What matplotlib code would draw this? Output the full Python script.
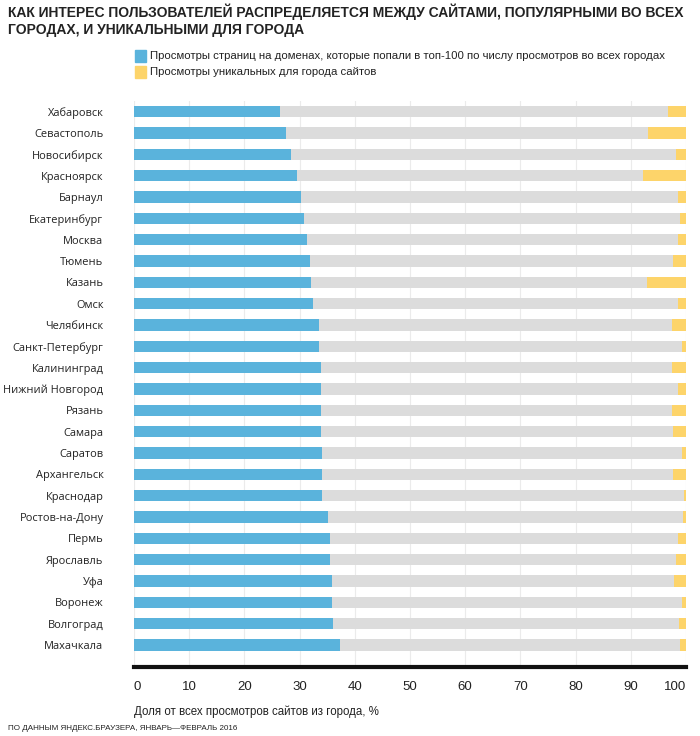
import numpy as np
import matplotlib
matplotlib.use("Agg")
from matplotlib import pyplot as plt
from matplotlib.patches import Rectangle

cities = ["Хабаровск", "Севастополь", "Новосибирск", "Красноярск", "Барнаул",
          "Екатеринбург", "Москва", "Тюмень", "Казань", "Омск", "Челябинск",
          "Санкт-Петербург", "Калининград", "Нижний Новгород", "Рязань", "Самара",
          "Саратов", "Архангельск", "Краснодар", "Ростов-на-Дону", "Пермь",
          "Ярославль", "Уфа", "Воронеж", "Волгоград", "Махачкала"]
top100 = np.array([26.5, 27.5, 28.4, 29.5, 30.2, 30.8, 31.4, 31.8, 32.1, 32.4, 33.5,
                   33.5, 33.8, 33.8, 33.8, 33.8, 34.1, 34.1, 34.1, 35.2, 35.5,
                   35.5, 35.8, 35.8, 36.1, 37.4])
unique = np.array([3.2, 6.9, 1.8, 7.7, 1.4, 1.1, 1.4, 2.4, 7.0, 1.4, 2.6,
                   0.7, 2.6, 1.4, 2.6, 2.4, 0.8, 2.4, 0.4, 0.5, 1.4,
                   1.8, 2.1, 0.8, 1.3, 1.1])
other = 100 - top100 - unique
xticks = list(range(0, 101, 10))

blue = "#5ab3dc"
grey = "#dcdcdc"
yellow = "#fdd46a"
narrow = "Liberation Sans"

fig = plt.figure(figsize=(7, 7.36), dpi=100)
ax = fig.add_axes([134/700, 1 - 667/736, (686 - 134)/700, (667 - 101)/736])

y = np.arange(len(cities))
h = 0.52
ax.barh(y, top100, height=h, color=blue, zorder=2)
ax.barh(y, other, left=top100, height=h, color=grey, zorder=2)
ax.barh(y, unique, left=top100 + other, height=h, color=yellow, zorder=2)

ax.set_xlim(0, 100)
ax.set_ylim(26.03, -0.5)
ax.set_yticks(y)
ax.set_yticklabels(cities, family="Open Sans", fontsize=7.9, color="#222222")
ax.set_xticks(xticks)
ax.set_xticklabels([str(t) for t in xticks], family=narrow, fontsize=9.5, color="#222222")
ax.get_xticklabels()[-1].set_horizontalalignment("right")
ax.get_xticklabels()[0].set_horizontalalignment("left")
ax.tick_params(axis="y", length=0, pad=22)
ax.tick_params(axis="x", length=0, pad=10)
ax.grid(axis="x", color="#ebebeb", lw=0.8, zorder=0)
ax.set_axisbelow(True)
for s in ["top", "left", "right"]:
    ax.spines[s].set_visible(False)
ax.spines["bottom"].set_linewidth(3)
ax.spines["bottom"].set_color("#111111")

ax.set_xlabel("Доля от всех просмотров сайтов из города, %", family=narrow,
              fontsize=8.3, color="#222222", loc="left", labelpad=9)

fig.text(8/700, 1 - 4/736, "КАК ИНТЕРЕС ПОЛЬЗОВАТЕЛЕЙ РАСПРЕДЕЛЯЕТСЯ МЕЖДУ САЙТАМИ, ПОПУЛЯРНЫМИ ВО ВСЕХ\nГОРОДАХ, И УНИКАЛЬНЫМИ ДЛЯ ГОРОДА",
         family=narrow, fontsize=10, fontweight="bold", color="#222222", va="top", linespacing=1.25)

legend_items = [("Просмотры страниц на доменах, которые попали в топ-100 по числу просмотров во всех городах", blue, 56),
                ("Просмотры уникальных для города сайтов", yellow, 72)]
for label, col, yy in legend_items:
    fig.patches.append(Rectangle((135/700, 1 - (yy + 6)/736), 11/700, 12/736,
                                 transform=fig.transFigure, color=col))
    fig.text(150/700, 1 - yy/736, label, family=narrow, fontsize=8.2,
             color="#222222", va="center")

fig.text(8/700, 1 - 728/736, "ПО ДАННЫМ ЯНДЕКС.БРАУЗЕРА, ЯНВАРЬ—ФЕВРАЛЬ 2016",
         family=narrow, fontsize=5.8, color="#222222", va="center")

fig.savefig("out.png", dpi=100)
